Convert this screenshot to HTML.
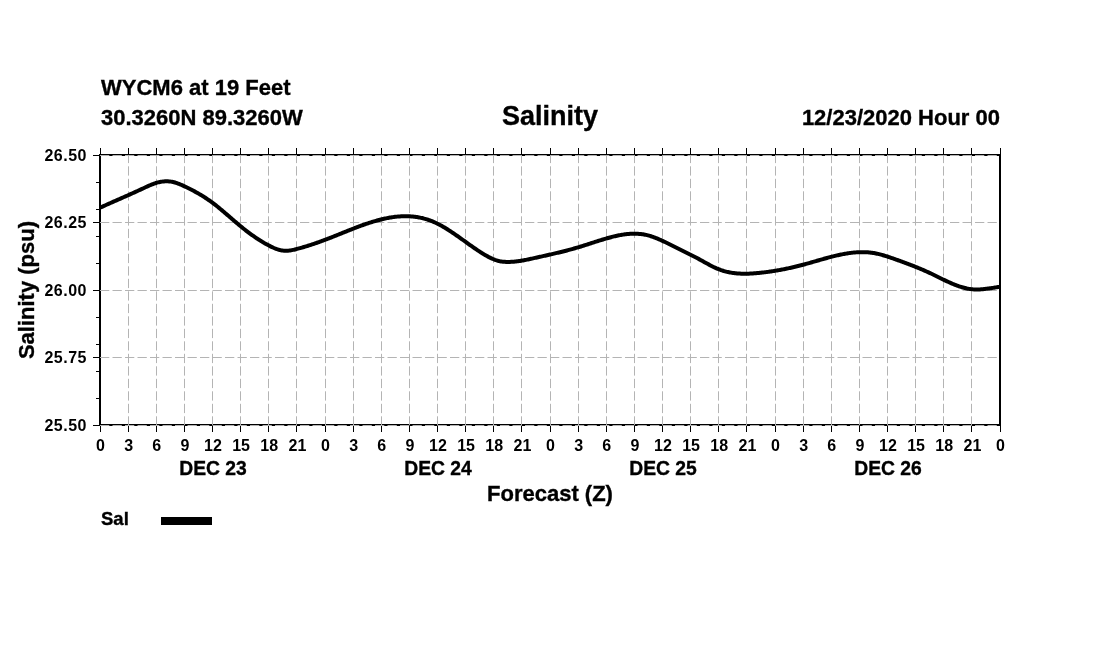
<!DOCTYPE html>
<html><head><meta charset="utf-8"><title>Salinity</title>
<style>html,body{margin:0;padding:0;background:#fff;width:1100px;height:650px;overflow:hidden;}
svg{display:block;will-change:transform;font-family:"Liberation Sans",sans-serif;}</style></head>
<body><svg width="1100" height="650" viewBox="0 0 1100 650">
<rect width="1100" height="650" fill="#fff"/>
<path d="M99,154H1001V156H99Z M99,424H1001V426H99Z M99,154H101V426H99Z M999,154H1001V426H999Z" fill="#000"/>
<path d="M100.5,148V154M100.5,426V432M128.5,148V154M128.5,426V432M156.5,148V154M156.5,426V432M184.5,148V154M184.5,426V432M212.5,148V154M212.5,426V432M240.5,148V154M240.5,426V432M268.5,148V154M268.5,426V432M296.5,148V154M296.5,426V432M325.5,148V154M325.5,426V432M353.5,148V154M353.5,426V432M381.5,148V154M381.5,426V432M409.5,148V154M409.5,426V432M437.5,148V154M437.5,426V432M465.5,148V154M465.5,426V432M493.5,148V154M493.5,426V432M521.5,148V154M521.5,426V432M550.5,148V154M550.5,426V432M578.5,148V154M578.5,426V432M606.5,148V154M606.5,426V432M634.5,148V154M634.5,426V432M662.5,148V154M662.5,426V432M690.5,148V154M690.5,426V432M718.5,148V154M718.5,426V432M746.5,148V154M746.5,426V432M775.5,148V154M775.5,426V432M803.5,148V154M803.5,426V432M831.5,148V154M831.5,426V432M859.5,148V154M859.5,426V432M887.5,148V154M887.5,426V432M915.5,148V154M915.5,426V432M943.5,148V154M943.5,426V432M971.5,148V154M971.5,426V432M1000.5,148V154M1000.5,426V432M93,155.5H99M93,222.5H99M93,290.5H99M93,357.5H99M93,425.5H99M96,182.5H99M96,209.5H99M96,236.5H99M96,263.5H99M96,317.5H99M96,344.5H99M96,371.5H99M96,398.5H99" stroke="#000" stroke-width="1" fill="none"/>
<path d="M128.5,155V425M156.5,155V425M184.5,155V425M212.5,155V425M240.5,155V425M268.5,155V425M296.5,155V425M325.5,155V425M353.5,155V425M381.5,155V425M409.5,155V425M437.5,155V425M465.5,155V425M493.5,155V425M521.5,155V425M550.5,155V425M578.5,155V425M606.5,155V425M634.5,155V425M662.5,155V425M690.5,155V425M718.5,155V425M746.5,155V425M775.5,155V425M803.5,155V425M831.5,155V425M859.5,155V425M887.5,155V425M915.5,155V425M943.5,155V425M971.5,155V425" stroke="#b4b4b4" stroke-width="1" stroke-dasharray="9.3 3.2" stroke-dashoffset="1.2" fill="none"/>
<path d="M100,155.5H999M100,222.5H999M100,290.5H999M100,357.5H999M100,425.5H999" stroke="#b4b4b4" stroke-width="1" stroke-dasharray="9.3 3.2" fill="none"/>
<path d="M100.0,207.74 L101.0,207.27 L102.0,206.81 L103.0,206.36 L104.0,205.90 L105.0,205.45 L106.0,205.00 L107.0,204.55 L108.0,204.10 L109.0,203.65 L110.0,203.20 L111.0,202.76 L112.0,202.32 L113.0,201.88 L114.0,201.43 L115.0,200.99 L116.0,200.55 L117.0,200.12 L118.0,199.68 L119.0,199.24 L120.0,198.80 L121.0,198.36 L122.0,197.92 L123.0,197.48 L124.0,197.04 L125.0,196.60 L126.0,196.16 L127.0,195.72 L128.0,195.28 L129.0,194.84 L130.0,194.39 L131.0,193.95 L132.0,193.50 L133.0,193.05 L134.0,192.60 L135.0,192.15 L136.0,191.69 L137.0,191.23 L138.0,190.78 L139.0,190.31 L140.0,189.85 L141.0,189.38 L142.0,188.92 L143.0,188.44 L144.0,187.97 L145.0,187.50 L146.0,187.03 L147.0,186.57 L148.0,186.12 L149.0,185.67 L150.0,185.24 L151.0,184.82 L152.0,184.41 L153.0,184.02 L154.0,183.65 L155.0,183.31 L156.0,182.98 L157.0,182.69 L158.0,182.42 L159.0,182.17 L160.0,181.96 L161.0,181.77 L162.0,181.61 L163.0,181.48 L164.0,181.39 L165.0,181.32 L166.0,181.29 L167.0,181.29 L168.0,181.32 L169.0,181.38 L170.0,181.49 L171.0,181.62 L172.0,181.80 L173.0,182.01 L174.0,182.25 L175.0,182.53 L176.0,182.84 L177.0,183.18 L178.0,183.54 L179.0,183.93 L180.0,184.33 L181.0,184.76 L182.0,185.19 L183.0,185.64 L184.0,186.10 L185.0,186.57 L186.0,187.04 L187.0,187.52 L188.0,188.01 L189.0,188.50 L190.0,189.00 L191.0,189.51 L192.0,190.02 L193.0,190.54 L194.0,191.08 L195.0,191.62 L196.0,192.16 L197.0,192.72 L198.0,193.29 L199.0,193.87 L200.0,194.45 L201.0,195.05 L202.0,195.66 L203.0,196.28 L204.0,196.91 L205.0,197.55 L206.0,198.21 L207.0,198.87 L208.0,199.55 L209.0,200.24 L210.0,200.94 L211.0,201.66 L212.0,202.39 L213.0,203.14 L214.0,203.90 L215.0,204.67 L216.0,205.45 L217.0,206.24 L218.0,207.05 L219.0,207.86 L220.0,208.68 L221.0,209.51 L222.0,210.35 L223.0,211.19 L224.0,212.04 L225.0,212.90 L226.0,213.75 L227.0,214.62 L228.0,215.48 L229.0,216.34 L230.0,217.21 L231.0,218.08 L232.0,218.94 L233.0,219.81 L234.0,220.67 L235.0,221.53 L236.0,222.38 L237.0,223.23 L238.0,224.07 L239.0,224.91 L240.0,225.74 L241.0,226.57 L242.0,227.38 L243.0,228.19 L244.0,228.98 L245.0,229.77 L246.0,230.55 L247.0,231.32 L248.0,232.08 L249.0,232.83 L250.0,233.58 L251.0,234.31 L252.0,235.03 L253.0,235.74 L254.0,236.44 L255.0,237.13 L256.0,237.81 L257.0,238.48 L258.0,239.14 L259.0,239.79 L260.0,240.42 L261.0,241.05 L262.0,241.66 L263.0,242.26 L264.0,242.85 L265.0,243.42 L266.0,243.99 L267.0,244.54 L268.0,245.07 L269.0,245.60 L270.0,246.11 L271.0,246.61 L272.0,247.08 L273.0,247.54 L274.0,247.98 L275.0,248.39 L276.0,248.77 L277.0,249.13 L278.0,249.46 L279.0,249.76 L280.0,250.02 L281.0,250.25 L282.0,250.44 L283.0,250.59 L284.0,250.70 L285.0,250.77 L286.0,250.79 L287.0,250.76 L288.0,250.70 L289.0,250.60 L290.0,250.47 L291.0,250.31 L292.0,250.12 L293.0,249.91 L294.0,249.69 L295.0,249.44 L296.0,249.19 L297.0,248.93 L298.0,248.67 L299.0,248.40 L300.0,248.13 L301.0,247.85 L302.0,247.56 L303.0,247.27 L304.0,246.98 L305.0,246.68 L306.0,246.38 L307.0,246.07 L308.0,245.76 L309.0,245.44 L310.0,245.12 L311.0,244.79 L312.0,244.46 L313.0,244.13 L314.0,243.79 L315.0,243.45 L316.0,243.11 L317.0,242.76 L318.0,242.41 L319.0,242.05 L320.0,241.69 L321.0,241.33 L322.0,240.96 L323.0,240.59 L324.0,240.22 L325.0,239.84 L326.0,239.46 L327.0,239.08 L328.0,238.70 L329.0,238.31 L330.0,237.92 L331.0,237.53 L332.0,237.13 L333.0,236.74 L334.0,236.34 L335.0,235.94 L336.0,235.54 L337.0,235.14 L338.0,234.74 L339.0,234.34 L340.0,233.93 L341.0,233.53 L342.0,233.13 L343.0,232.72 L344.0,232.32 L345.0,231.92 L346.0,231.52 L347.0,231.12 L348.0,230.72 L349.0,230.32 L350.0,229.93 L351.0,229.53 L352.0,229.14 L353.0,228.75 L354.0,228.36 L355.0,227.98 L356.0,227.59 L357.0,227.21 L358.0,226.84 L359.0,226.46 L360.0,226.09 L361.0,225.73 L362.0,225.36 L363.0,225.01 L364.0,224.65 L365.0,224.30 L366.0,223.96 L367.0,223.62 L368.0,223.28 L369.0,222.95 L370.0,222.63 L371.0,222.31 L372.0,222.00 L373.0,221.69 L374.0,221.39 L375.0,221.09 L376.0,220.81 L377.0,220.53 L378.0,220.25 L379.0,219.98 L380.0,219.73 L381.0,219.47 L382.0,219.23 L383.0,218.99 L384.0,218.77 L385.0,218.55 L386.0,218.33 L387.0,218.13 L388.0,217.94 L389.0,217.75 L390.0,217.58 L391.0,217.41 L392.0,217.26 L393.0,217.11 L394.0,216.98 L395.0,216.85 L396.0,216.74 L397.0,216.63 L398.0,216.54 L399.0,216.46 L400.0,216.38 L401.0,216.33 L402.0,216.28 L403.0,216.24 L404.0,216.22 L405.0,216.21 L406.0,216.21 L407.0,216.22 L408.0,216.25 L409.0,216.28 L410.0,216.34 L411.0,216.40 L412.0,216.48 L413.0,216.58 L414.0,216.68 L415.0,216.80 L416.0,216.94 L417.0,217.09 L418.0,217.25 L419.0,217.43 L420.0,217.63 L421.0,217.84 L422.0,218.07 L423.0,218.31 L424.0,218.57 L425.0,218.84 L426.0,219.13 L427.0,219.44 L428.0,219.76 L429.0,220.10 L430.0,220.46 L431.0,220.83 L432.0,221.23 L433.0,221.64 L434.0,222.06 L435.0,222.51 L436.0,222.97 L437.0,223.45 L438.0,223.95 L439.0,224.46 L440.0,224.99 L441.0,225.53 L442.0,226.09 L443.0,226.66 L444.0,227.25 L445.0,227.84 L446.0,228.45 L447.0,229.07 L448.0,229.70 L449.0,230.34 L450.0,230.98 L451.0,231.64 L452.0,232.31 L453.0,232.98 L454.0,233.66 L455.0,234.35 L456.0,235.04 L457.0,235.74 L458.0,236.44 L459.0,237.14 L460.0,237.85 L461.0,238.57 L462.0,239.28 L463.0,240.00 L464.0,240.71 L465.0,241.43 L466.0,242.15 L467.0,242.87 L468.0,243.58 L469.0,244.30 L470.0,245.01 L471.0,245.72 L472.0,246.42 L473.0,247.12 L474.0,247.82 L475.0,248.51 L476.0,249.19 L477.0,249.87 L478.0,250.54 L479.0,251.20 L480.0,251.85 L481.0,252.50 L482.0,253.13 L483.0,253.75 L484.0,254.36 L485.0,254.95 L486.0,255.53 L487.0,256.09 L488.0,256.63 L489.0,257.15 L490.0,257.65 L491.0,258.13 L492.0,258.58 L493.0,259.01 L494.0,259.41 L495.0,259.79 L496.0,260.14 L497.0,260.46 L498.0,260.75 L499.0,261.01 L500.0,261.23 L501.0,261.42 L502.0,261.58 L503.0,261.71 L504.0,261.80 L505.0,261.87 L506.0,261.92 L507.0,261.94 L508.0,261.95 L509.0,261.94 L510.0,261.91 L511.0,261.87 L512.0,261.81 L513.0,261.74 L514.0,261.66 L515.0,261.56 L516.0,261.45 L517.0,261.33 L518.0,261.20 L519.0,261.06 L520.0,260.91 L521.0,260.75 L522.0,260.59 L523.0,260.41 L524.0,260.23 L525.0,260.04 L526.0,259.85 L527.0,259.65 L528.0,259.44 L529.0,259.23 L530.0,259.02 L531.0,258.80 L532.0,258.58 L533.0,258.36 L534.0,258.14 L535.0,257.92 L536.0,257.70 L537.0,257.48 L538.0,257.26 L539.0,257.03 L540.0,256.81 L541.0,256.59 L542.0,256.37 L543.0,256.14 L544.0,255.92 L545.0,255.70 L546.0,255.47 L547.0,255.25 L548.0,255.02 L549.0,254.79 L550.0,254.57 L551.0,254.34 L552.0,254.11 L553.0,253.87 L554.0,253.64 L555.0,253.41 L556.0,253.17 L557.0,252.93 L558.0,252.69 L559.0,252.45 L560.0,252.21 L561.0,251.96 L562.0,251.71 L563.0,251.46 L564.0,251.21 L565.0,250.95 L566.0,250.70 L567.0,250.44 L568.0,250.17 L569.0,249.91 L570.0,249.64 L571.0,249.36 L572.0,249.09 L573.0,248.81 L574.0,248.53 L575.0,248.24 L576.0,247.95 L577.0,247.66 L578.0,247.37 L579.0,247.07 L580.0,246.76 L581.0,246.46 L582.0,246.15 L583.0,245.83 L584.0,245.52 L585.0,245.20 L586.0,244.88 L587.0,244.56 L588.0,244.24 L589.0,243.91 L590.0,243.59 L591.0,243.27 L592.0,242.94 L593.0,242.62 L594.0,242.29 L595.0,241.97 L596.0,241.65 L597.0,241.33 L598.0,241.01 L599.0,240.70 L600.0,240.38 L601.0,240.07 L602.0,239.76 L603.0,239.46 L604.0,239.16 L605.0,238.86 L606.0,238.57 L607.0,238.28 L608.0,238.00 L609.0,237.72 L610.0,237.45 L611.0,237.19 L612.0,236.93 L613.0,236.67 L614.0,236.43 L615.0,236.19 L616.0,235.96 L617.0,235.74 L618.0,235.53 L619.0,235.33 L620.0,235.14 L621.0,234.96 L622.0,234.79 L623.0,234.63 L624.0,234.48 L625.0,234.34 L626.0,234.21 L627.0,234.10 L628.0,234.00 L629.0,233.92 L630.0,233.84 L631.0,233.79 L632.0,233.74 L633.0,233.71 L634.0,233.70 L635.0,233.70 L636.0,233.72 L637.0,233.76 L638.0,233.81 L639.0,233.88 L640.0,233.97 L641.0,234.08 L642.0,234.20 L643.0,234.35 L644.0,234.51 L645.0,234.69 L646.0,234.90 L647.0,235.12 L648.0,235.36 L649.0,235.63 L650.0,235.92 L651.0,236.23 L652.0,236.56 L653.0,236.90 L654.0,237.27 L655.0,237.65 L656.0,238.04 L657.0,238.45 L658.0,238.87 L659.0,239.30 L660.0,239.74 L661.0,240.19 L662.0,240.65 L663.0,241.11 L664.0,241.57 L665.0,242.04 L666.0,242.52 L667.0,243.00 L668.0,243.48 L669.0,243.97 L670.0,244.46 L671.0,244.95 L672.0,245.44 L673.0,245.94 L674.0,246.44 L675.0,246.94 L676.0,247.44 L677.0,247.95 L678.0,248.45 L679.0,248.96 L680.0,249.47 L681.0,249.97 L682.0,250.48 L683.0,250.99 L684.0,251.50 L685.0,252.00 L686.0,252.51 L687.0,253.01 L688.0,253.51 L689.0,254.01 L690.0,254.51 L691.0,255.00 L692.0,255.50 L693.0,255.99 L694.0,256.49 L695.0,257.00 L696.0,257.52 L697.0,258.05 L698.0,258.59 L699.0,259.13 L700.0,259.68 L701.0,260.23 L702.0,260.79 L703.0,261.34 L704.0,261.90 L705.0,262.46 L706.0,263.01 L707.0,263.56 L708.0,264.11 L709.0,264.64 L710.0,265.17 L711.0,265.69 L712.0,266.20 L713.0,266.70 L714.0,267.19 L715.0,267.66 L716.0,268.11 L717.0,268.55 L718.0,268.96 L719.0,269.36 L720.0,269.74 L721.0,270.10 L722.0,270.43 L723.0,270.75 L724.0,271.05 L725.0,271.33 L726.0,271.59 L727.0,271.84 L728.0,272.07 L729.0,272.28 L730.0,272.47 L731.0,272.65 L732.0,272.82 L733.0,272.96 L734.0,273.10 L735.0,273.22 L736.0,273.32 L737.0,273.42 L738.0,273.49 L739.0,273.56 L740.0,273.62 L741.0,273.66 L742.0,273.69 L743.0,273.71 L744.0,273.72 L745.0,273.72 L746.0,273.71 L747.0,273.70 L748.0,273.67 L749.0,273.63 L750.0,273.59 L751.0,273.54 L752.0,273.48 L753.0,273.42 L754.0,273.35 L755.0,273.27 L756.0,273.19 L757.0,273.10 L758.0,273.01 L759.0,272.91 L760.0,272.81 L761.0,272.71 L762.0,272.60 L763.0,272.49 L764.0,272.37 L765.0,272.25 L766.0,272.12 L767.0,271.99 L768.0,271.86 L769.0,271.72 L770.0,271.58 L771.0,271.44 L772.0,271.29 L773.0,271.13 L774.0,270.97 L775.0,270.81 L776.0,270.64 L777.0,270.47 L778.0,270.30 L779.0,270.12 L780.0,269.94 L781.0,269.76 L782.0,269.57 L783.0,269.37 L784.0,269.18 L785.0,268.98 L786.0,268.77 L787.0,268.56 L788.0,268.35 L789.0,268.13 L790.0,267.92 L791.0,267.69 L792.0,267.47 L793.0,267.24 L794.0,267.00 L795.0,266.76 L796.0,266.52 L797.0,266.28 L798.0,266.03 L799.0,265.78 L800.0,265.53 L801.0,265.27 L802.0,265.01 L803.0,264.74 L804.0,264.47 L805.0,264.20 L806.0,263.93 L807.0,263.65 L808.0,263.37 L809.0,263.09 L810.0,262.80 L811.0,262.52 L812.0,262.23 L813.0,261.94 L814.0,261.66 L815.0,261.37 L816.0,261.08 L817.0,260.79 L818.0,260.50 L819.0,260.21 L820.0,259.92 L821.0,259.64 L822.0,259.35 L823.0,259.07 L824.0,258.79 L825.0,258.51 L826.0,258.23 L827.0,257.96 L828.0,257.68 L829.0,257.41 L830.0,257.15 L831.0,256.89 L832.0,256.63 L833.0,256.38 L834.0,256.13 L835.0,255.88 L836.0,255.65 L837.0,255.41 L838.0,255.18 L839.0,254.96 L840.0,254.75 L841.0,254.54 L842.0,254.34 L843.0,254.14 L844.0,253.95 L845.0,253.77 L846.0,253.60 L847.0,253.43 L848.0,253.28 L849.0,253.13 L850.0,252.99 L851.0,252.86 L852.0,252.74 L853.0,252.63 L854.0,252.53 L855.0,252.45 L856.0,252.37 L857.0,252.30 L858.0,252.24 L859.0,252.20 L860.0,252.16 L861.0,252.14 L862.0,252.13 L863.0,252.14 L864.0,252.16 L865.0,252.18 L866.0,252.23 L867.0,252.29 L868.0,252.36 L869.0,252.44 L870.0,252.54 L871.0,252.66 L872.0,252.79 L873.0,252.93 L874.0,253.09 L875.0,253.27 L876.0,253.46 L877.0,253.67 L878.0,253.89 L879.0,254.13 L880.0,254.38 L881.0,254.64 L882.0,254.92 L883.0,255.20 L884.0,255.50 L885.0,255.80 L886.0,256.12 L887.0,256.44 L888.0,256.76 L889.0,257.10 L890.0,257.44 L891.0,257.78 L892.0,258.13 L893.0,258.48 L894.0,258.83 L895.0,259.19 L896.0,259.54 L897.0,259.90 L898.0,260.25 L899.0,260.61 L900.0,260.97 L901.0,261.33 L902.0,261.69 L903.0,262.06 L904.0,262.42 L905.0,262.79 L906.0,263.16 L907.0,263.54 L908.0,263.91 L909.0,264.29 L910.0,264.67 L911.0,265.05 L912.0,265.44 L913.0,265.83 L914.0,266.22 L915.0,266.62 L916.0,267.02 L917.0,267.42 L918.0,267.83 L919.0,268.24 L920.0,268.66 L921.0,269.08 L922.0,269.51 L923.0,269.94 L924.0,270.37 L925.0,270.81 L926.0,271.26 L927.0,271.71 L928.0,272.16 L929.0,272.63 L930.0,273.09 L931.0,273.57 L932.0,274.04 L933.0,274.53 L934.0,275.01 L935.0,275.50 L936.0,275.99 L937.0,276.49 L938.0,276.98 L939.0,277.47 L940.0,277.97 L941.0,278.46 L942.0,278.95 L943.0,279.43 L944.0,279.92 L945.0,280.40 L946.0,280.87 L947.0,281.34 L948.0,281.80 L949.0,282.26 L950.0,282.70 L951.0,283.14 L952.0,283.57 L953.0,283.99 L954.0,284.40 L955.0,284.80 L956.0,285.19 L957.0,285.57 L958.0,285.93 L959.0,286.28 L960.0,286.61 L961.0,286.93 L962.0,287.23 L963.0,287.52 L964.0,287.79 L965.0,288.04 L966.0,288.27 L967.0,288.49 L968.0,288.68 L969.0,288.85 L970.0,289.00 L971.0,289.14 L972.0,289.24 L973.0,289.33 L974.0,289.39 L975.0,289.44 L976.0,289.46 L977.0,289.46 L978.0,289.45 L979.0,289.42 L980.0,289.38 L981.0,289.32 L982.0,289.25 L983.0,289.17 L984.0,289.07 L985.0,288.96 L986.0,288.85 L987.0,288.72 L988.0,288.59 L989.0,288.45 L990.0,288.31 L991.0,288.16 L992.0,288.01 L993.0,287.85 L994.0,287.70 L995.0,287.54 L996.0,287.39 L997.0,287.23 L998.0,287.08 L999.0,286.93 L1000.0,286.79" fill="none" stroke="#000" stroke-width="4" stroke-linejoin="round" stroke-linecap="butt"/>
<g font-family="Liberation Sans, sans-serif" font-weight="bold" fill="#000" stroke="#000" stroke-width="0.35"><text x="101" y="94.6" font-size="22" transform="matrix(1 0 0 1.020 0 -1.892)">WYCM6 at 19 Feet</text><text x="101" y="124.6" font-size="22" transform="matrix(1 0 0 1.020 0 -2.492)">30.3260N 89.3260W</text><text x="550" y="125" font-size="27" text-anchor="middle" transform="matrix(1 0 0 1.020 0 -2.500)">Salinity</text><text x="1000" y="125" font-size="22" text-anchor="end" transform="matrix(1 0 0 1.020 0 -2.500)">12/23/2020 Hour 00</text><text x="87" y="160.7" font-size="16" letter-spacing="0.5" stroke-width="0" text-anchor="end">26.50</text><text x="87" y="228.2" font-size="16" letter-spacing="0.5" stroke-width="0" text-anchor="end">26.25</text><text x="87" y="295.7" font-size="16" letter-spacing="0.5" stroke-width="0" text-anchor="end">26.00</text><text x="87" y="363.2" font-size="16" letter-spacing="0.5" stroke-width="0" text-anchor="end">25.75</text><text x="87" y="430.7" font-size="16" letter-spacing="0.5" stroke-width="0" text-anchor="end">25.50</text><text x="100.5" y="451" font-size="16" stroke-width="0" text-anchor="middle">0</text><text x="128.6" y="451" font-size="16" stroke-width="0" text-anchor="middle">3</text><text x="156.8" y="451" font-size="16" stroke-width="0" text-anchor="middle">6</text><text x="184.9" y="451" font-size="16" stroke-width="0" text-anchor="middle">9</text><text x="213.0" y="451" font-size="16" stroke-width="0" text-anchor="middle">12</text><text x="241.1" y="451" font-size="16" stroke-width="0" text-anchor="middle">15</text><text x="269.2" y="451" font-size="16" stroke-width="0" text-anchor="middle">18</text><text x="297.4" y="451" font-size="16" stroke-width="0" text-anchor="middle">21</text><text x="325.5" y="451" font-size="16" stroke-width="0" text-anchor="middle">0</text><text x="353.6" y="451" font-size="16" stroke-width="0" text-anchor="middle">3</text><text x="381.8" y="451" font-size="16" stroke-width="0" text-anchor="middle">6</text><text x="409.9" y="451" font-size="16" stroke-width="0" text-anchor="middle">9</text><text x="438.0" y="451" font-size="16" stroke-width="0" text-anchor="middle">12</text><text x="466.1" y="451" font-size="16" stroke-width="0" text-anchor="middle">15</text><text x="494.2" y="451" font-size="16" stroke-width="0" text-anchor="middle">18</text><text x="522.4" y="451" font-size="16" stroke-width="0" text-anchor="middle">21</text><text x="550.5" y="451" font-size="16" stroke-width="0" text-anchor="middle">0</text><text x="578.6" y="451" font-size="16" stroke-width="0" text-anchor="middle">3</text><text x="606.8" y="451" font-size="16" stroke-width="0" text-anchor="middle">6</text><text x="634.9" y="451" font-size="16" stroke-width="0" text-anchor="middle">9</text><text x="663.0" y="451" font-size="16" stroke-width="0" text-anchor="middle">12</text><text x="691.1" y="451" font-size="16" stroke-width="0" text-anchor="middle">15</text><text x="719.2" y="451" font-size="16" stroke-width="0" text-anchor="middle">18</text><text x="747.4" y="451" font-size="16" stroke-width="0" text-anchor="middle">21</text><text x="775.5" y="451" font-size="16" stroke-width="0" text-anchor="middle">0</text><text x="803.6" y="451" font-size="16" stroke-width="0" text-anchor="middle">3</text><text x="831.8" y="451" font-size="16" stroke-width="0" text-anchor="middle">6</text><text x="859.9" y="451" font-size="16" stroke-width="0" text-anchor="middle">9</text><text x="888.0" y="451" font-size="16" stroke-width="0" text-anchor="middle">12</text><text x="916.1" y="451" font-size="16" stroke-width="0" text-anchor="middle">15</text><text x="944.2" y="451" font-size="16" stroke-width="0" text-anchor="middle">18</text><text x="972.4" y="451" font-size="16" stroke-width="0" text-anchor="middle">21</text><text x="1000.5" y="451" font-size="16" stroke-width="0" text-anchor="middle">0</text><text x="213.0" y="475" font-size="19.3" text-anchor="middle">DEC 23</text><text x="438.0" y="475" font-size="19.3" text-anchor="middle">DEC 24</text><text x="663.0" y="475" font-size="19.3" text-anchor="middle">DEC 25</text><text x="888.0" y="475" font-size="19.3" text-anchor="middle">DEC 26</text><text x="550" y="500.5" font-size="22" text-anchor="middle">Forecast (Z)</text><text x="34" y="290" font-size="22" text-anchor="middle" transform="rotate(-90 34 290)">Salinity (psu)</text><text x="101" y="524.5" font-size="18.5">Sal</text></g>
<rect x="161" y="517" width="51" height="8" fill="#000"/>
</svg></body></html>
